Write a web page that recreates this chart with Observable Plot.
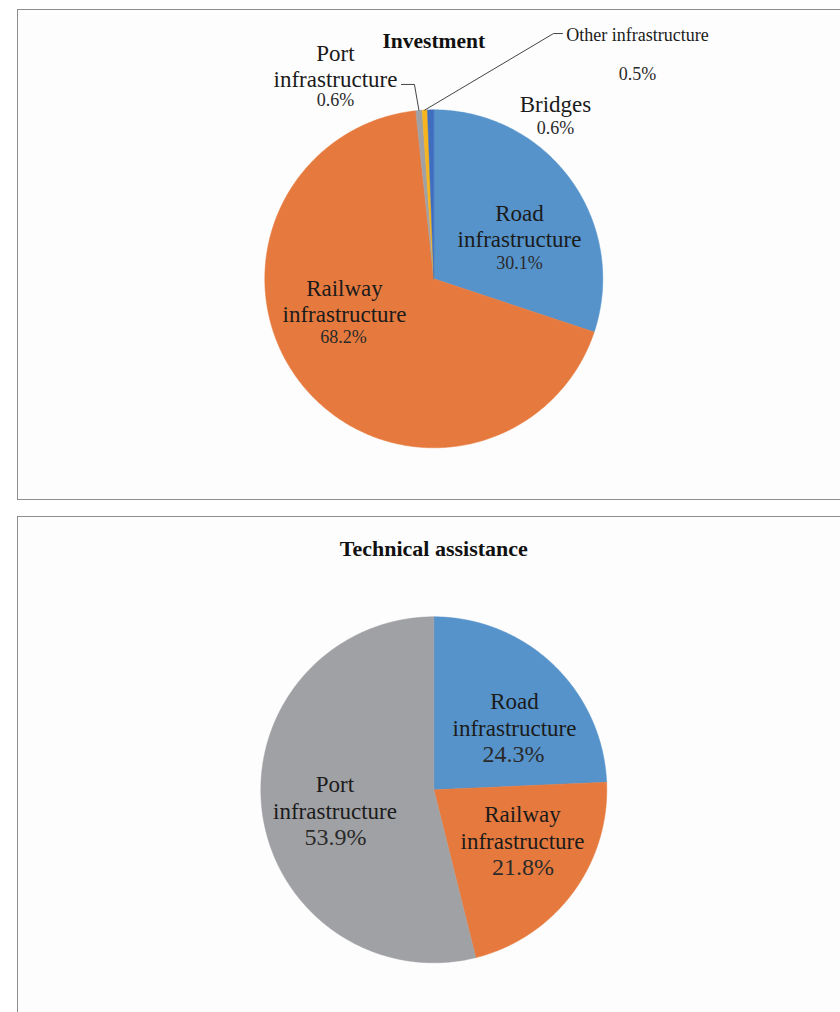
<!DOCTYPE html>
<html><head><meta charset="utf-8">
<script src="https://cdn.jsdelivr.net/npm/d3@7"></script>
<script src="https://cdn.jsdelivr.net/npm/@observablehq/plot@0.6"></script>
<style>
html,body{margin:0;padding:0;background:#fff;overflow:hidden;width:840px;height:1012px;}
#root{position:relative;width:840px;height:1012px;overflow:hidden;}
.panel{position:absolute;left:17px;width:880px;border:1.5px solid #8e8e8e;background:#fdfdfd;box-sizing:border-box;}
.chart{position:absolute;left:0;}
.chart svg{background:transparent !important;}
</style></head><body><div id="root">
<div class="panel" style="top:9px;height:491px"></div>
<div class="panel" style="top:516px;height:540px"></div>
<div class="chart" id="c1" style="top:0"></div>
<div class="chart" id="c2" style="top:508px"></div>
</div>
<script>
// ---- data ----
const investTitle = "Investment";
const investCategories = ["Road infrastructure", "Railway infrastructure", "Port infrastructure", "Other infrastructure", "Bridges"];
const investShares = [30.1, 68.2, 0.6, 0.5, 0.6];

const assistTitle = "Technical assistance";
const assistCategories = ["Road infrastructure", "Railway infrastructure", "Port infrastructure"];
const assistShares = [24.3, 21.8, 53.9];

// ---- styles ----
const categoryColors = {
  "Road infrastructure": "#5593CA",
  "Railway infrastructure": "#E67A3E",
  "Port infrastructure": "#A0A1A4",
  "Other infrastructure": "#F6B41E",
  "Bridges": "#3F6DC0"
};
const FONT = "'Liberation Serif', 'Times New Roman', serif";

// label layout: anchor at slice mid-angle (radius factor k), nudged in pixels
const investLayout = {
  nameSize: 23, pctSize: 18, lineGap: 26, titleSize: 21.5,
  labels: {
    "Road infrastructure": {k: 0.6, lines: ["Road", "infrastructure"], name: [3.5, 6], pct: [3.5, 44]},
    "Railway infrastructure": {k: 0.6, lines: ["Railway", "infrastructure"], name: [-10.4, -41.9], pct: [-11.4, -4.9]},
    "Port infrastructure": {k: 1, lines: ["Port", "infrastructure"], name: [-83.5, -45], pct: [-83.5, -10],
      leader: [[0, 0], [-4.5, -26], [-17.5, -26]]},
    "Other infrastructure": {k: 1, lines: ["Other infrastructure"], nameSize: 18, name: [212.7, -77.5], pct: [212.7, -35.5],
      leader: [[0, 0], [128.7, -76.5], [137.7, -76.5]]},
    "Bridges": {k: 1, lines: ["Bridges"], name: [124.9, -6.3], pct: [124.9, 18.7]}
  }
};
const assistLayout = {
  nameSize: 23, pctSize: 24, lineGap: 27, titleSize: 22,
  labels: {
    "Road infrastructure": {k: 0.6, lines: ["Road", "infrastructure"], name: [8.9, -0.8], pct: [7.9, 39.7]},
    "Railway infrastructure": {k: 0.6, lines: ["Railway", "infrastructure"], name: [5.5, -24.9], pct: [6, 15.6]},
    "Port infrastructure": {k: 0.6, lines: ["Port", "infrastructure"], name: [4.2, -6], pct: [4.7, 35]}
  }
};

function piePlot({title, categories, shares, layout, width, height, cx, cy, r, titleY}) {
  const rows = categories.map((c, i) => ({category: c, share: shares[i]}));
  const arcs = d3.pie().sort(null).value(d => d.share)(rows);
  const marks = [];
  // slices
  for (const s of arcs) {
    const pts = [{x: 0, y: 0}];
    const n = Math.max(2, Math.ceil((s.endAngle - s.startAngle) / (Math.PI / 360)));
    for (let k = 0; k <= n; k++) {
      const a = s.startAngle + (s.endAngle - s.startAngle) * k / n;
      pts.push({x: Math.sin(a), y: Math.cos(a)});
    }
    pts.push({x: 0, y: 0});
    const col = categoryColors[s.data.category];
    marks.push(Plot.line(pts, {x: "x", y: "y", fill: col, stroke: col, strokeWidth: 0.5, curve: "linear"}));
  }
  // labels
  const fmt = v => d3.format(".1f")(v) + "%";
  for (const s of arcs) {
    const L = layout.labels[s.data.category];
    if (!L) continue;
    const mid = (s.startAngle + s.endAngle) / 2;
    const ax = L.k * Math.sin(mid), ay = L.k * Math.cos(mid);
    if (L.leader) {
      const lp = L.leader.map(([dx, dy]) => ({x: ax + dx / r, y: ay - dy / r}));
      marks.push(Plot.line(lp, {x: "x", y: "y", stroke: "#444", strokeWidth: 1, curve: "linear"}));
    }
    const ns = L.nameSize || layout.nameSize;
    marks.push(Plot.text([s.data], {
      x: () => ax, y: () => ay, dx: L.name[0], dy: L.name[1],
      text: () => L.lines.join("\n"), lineHeight: layout.lineGap / ns,
      fontSize: ns, fontFamily: FONT, fill: "#1b1b1b"
    }));
    marks.push(Plot.text([s.data], {
      x: () => ax, y: () => ay, dx: L.pct[0], dy: L.pct[1],
      text: d => fmt(d.share), fontSize: layout.pctSize, fontFamily: FONT, fill: "#2a2a2a"
    }));
  }
  // title
  marks.push(Plot.text([title], {
    x: () => 0, frameAnchor: "top", lineAnchor: "middle", dy: titleY, text: d => d,
    fontSize: layout.titleSize, fontWeight: "bold", fontFamily: FONT, fill: "#111"
  }));
  return Plot.plot({
    width, height, margin: 0,
    x: {domain: [-cx / r, (width - cx) / r], axis: null},
    y: {domain: [-(height - cy) / r, cy / r], axis: null},
    style: {background: "transparent", overflow: "visible"},
    marks
  });
}

document.getElementById("c1").appendChild(piePlot({
  title: investTitle, categories: investCategories, shares: investShares, layout: investLayout,
  width: 840, height: 508, cx: 433.3, cy: 278.3, r: 169, titleY: 41
}));
document.getElementById("c2").appendChild(piePlot({
  title: assistTitle, categories: assistCategories, shares: assistShares, layout: assistLayout,
  width: 840, height: 504, cx: 433.3, cy: 281.3, r: 173, titleY: 40
}));
</script>
</body></html>
